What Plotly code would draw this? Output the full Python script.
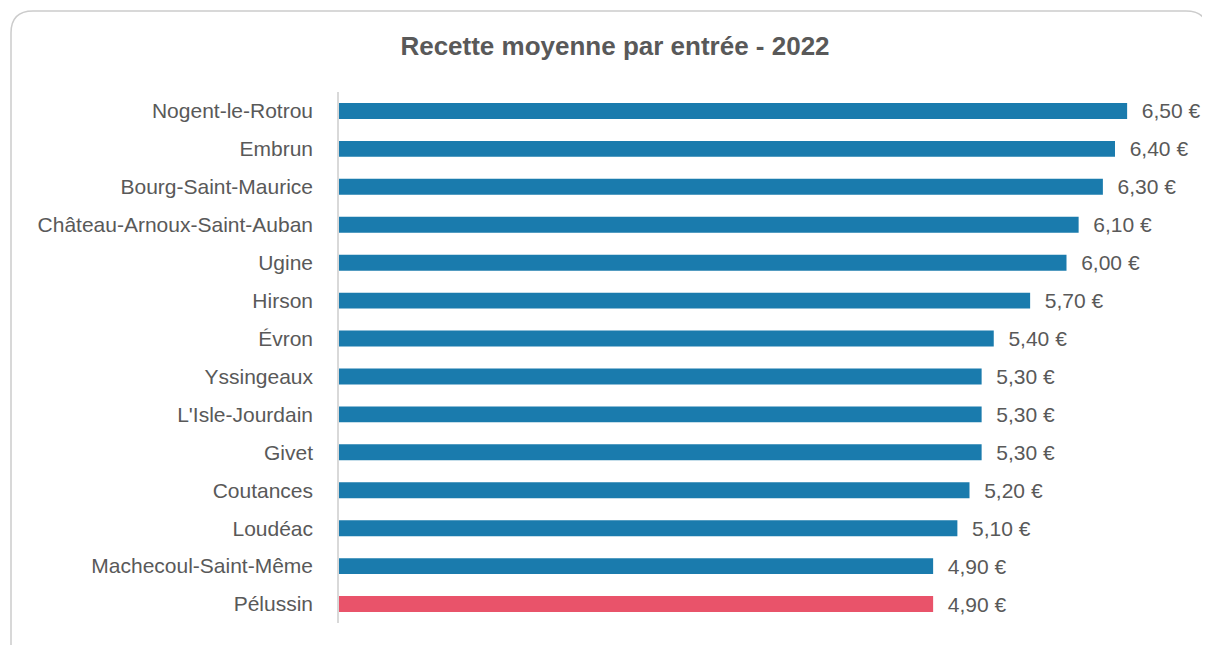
import plotly.graph_objects as go

categories = ["Nogent-le-Rotrou", "Embrun", "Bourg-Saint-Maurice", "Château-Arnoux-Saint-Auban",
              "Ugine", "Hirson", "Évron", "Yssingeaux", "L'Isle-Jourdain", "Givet", "Coutances",
              "Loudéac", "Machecoul-Saint-Même", "Pélussin"]
values = [6.50, 6.40, 6.30, 6.10, 6.00, 5.70, 5.40, 5.30, 5.30, 5.30, 5.20, 5.10, 4.90, 4.90]
highlight = "Pélussin"

BLUE = "#1a7bad"
RED = "#e9536a"
TXT = "#595959"
FONT = "Liberation Sans, Arial"
colors = [RED if c == highlight else BLUE for c in categories]
labels = ["  " + f"{v:.2f}".replace(".", ",") + " €" for v in values]

# page has an 8px body margin; figure coords = screen coords - 8
W, H = 1202, 637
ML, MR, MT, MB = 331, 10, 84, 22
pw, ph = W - ML - MR, H - MT - MB
xmax = pw / 121.25

fig = go.Figure(go.Bar(
    y=categories, x=values, orientation="h",
    marker=dict(color=colors, line=dict(width=0)),
    text=labels, textposition="outside", cliponaxis=False, constraintext="none",
    textfont=dict(size=21, color=TXT, family=FONT),
    hoverinfo="skip",
))

def P(x, y):
    a, b = (x - ML) / pw, (H - MB - y) / ph
    return f"{a:.5f},{b:.5f}"

x0, y0, x1, y1, r = 3, 3, 1200, 660, 22
path = (f"M {P(x0, y1)} L {P(x0, y0 + r)} Q {P(x0, y0)} {P(x0 + r, y0)} "
        f"L {P(x1 - r, y0)} Q {P(x1, y0)} {P(x1, y0 + r)} L {P(x1, y1)}")

fig.update_layout(
    width=W, height=H,
    margin=dict(l=ML, r=MR, t=MT, b=MB),
    paper_bgcolor="white", plot_bgcolor="white",
    bargap=0.58,
    showlegend=False,
    title=dict(text="<b>Recette moyenne par entrée - 2022</b>", x=607 / W, xanchor="center",
               y=1 - 38 / H, yanchor="middle",
               font=dict(size=26, color=TXT, family=FONT)),
    xaxis=dict(range=[0, xmax], visible=False, fixedrange=True),
    yaxis=dict(categoryorder="array", categoryarray=categories[::-1],
               showline=True, linecolor="#d9d9d9", linewidth=1.5, ticks="",
               ticklabelstandoff=20, showgrid=False,
               tickfont=dict(size=21, color=TXT, family=FONT)),
    shapes=[dict(type="path", path=path, xref="paper", yref="paper",
                 line=dict(color="#cccccc", width=1.5), layer="above")],
)

fig.write_html("out.html")
